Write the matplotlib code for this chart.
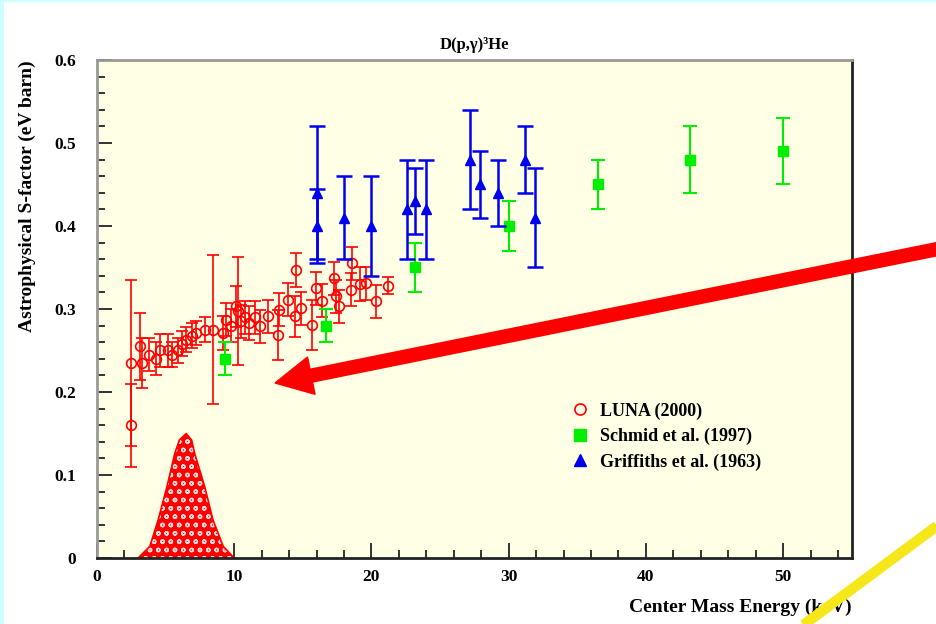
import numpy as np
import matplotlib
matplotlib.use("Agg")
import matplotlib.pyplot as plt
from matplotlib.lines import Line2D
from matplotlib.patches import FancyArrow, Rectangle
from matplotlib.ticker import MultipleLocator

# LUNA (2000)
luna_e = [2.5, 2.5, 3.1, 3.3, 3.8, 4.3, 4.6, 5.2, 5.5, 5.9, 6.2, 6.5, 6.9, 7.2,
          7.85, 8.45, 9.2, 9.4, 9.8, 10.15, 10.25, 10.5, 10.8, 11.1, 11.5, 11.85,
          12.45, 13.2, 13.3, 13.9, 14.4, 14.5, 14.9, 15.7, 15.96, 16.4, 17.3,
          17.4, 17.66, 18.5, 18.6, 19.2, 19.6, 20.3, 21.2]
luna_s = [0.235, 0.16, 0.255, 0.235, 0.245, 0.24, 0.25, 0.25, 0.245, 0.25, 0.258,
          0.263, 0.268, 0.271, 0.275, 0.275, 0.271, 0.287, 0.28, 0.303, 0.297,
          0.285, 0.29, 0.283, 0.29, 0.279, 0.291, 0.269, 0.299, 0.311, 0.291,
          0.347, 0.301, 0.281, 0.325, 0.31, 0.337, 0.315, 0.303, 0.323, 0.355,
          0.33, 0.331, 0.309, 0.328]
luna_err = [0.10, 0.05, 0.04, 0.03, 0.02, 0.02, 0.02, 0.02, 0.015, 0.015, 0.015,
            0.015, 0.015, 0.015, 0.015, 0.09, 0.02, 0.02, 0.02, 0.025, 0.065,
            0.02, 0.02, 0.02, 0.02, 0.02, 0.02, 0.03, 0.02, 0.02, 0.025, 0.02,
            0.02, 0.03, 0.02, 0.02, 0.02, 0.02, 0.02, 0.02, 0.02, 0.02, 0.02,
            0.02, 0.01]

# Schmid et al. (1997)
schmid_e = [9.3, 16.7, 23.2, 30.0, 36.5, 43.2, 50.0]
schmid_s = [0.24, 0.28, 0.35, 0.40, 0.45, 0.48, 0.49]
schmid_err = [0.02, 0.02, 0.03, 0.03, 0.03, 0.04, 0.04]

# Griffiths et al. (1963)
griff_e = [16.0, 16.0, 18.0, 19.96, 22.6, 23.2, 24.0, 27.2, 27.9, 29.2, 31.2, 31.9]
griff_s = [0.44, 0.40, 0.41, 0.40, 0.42, 0.43, 0.42, 0.48, 0.45, 0.44, 0.48, 0.41]
griff_err = [0.08, 0.045, 0.05, 0.06, 0.06, 0.04, 0.06, 0.06, 0.04, 0.04, 0.04, 0.06]

# Gamow peak (arbitrary units)
peak_e = [3.0, 3.85, 4.46, 5.1, 5.67, 6.0, 6.5, 6.9, 7.12, 7.85, 8.45, 9.2, 10.0]
peak_s = [0.0, 0.014, 0.046, 0.086, 0.126, 0.142, 0.150, 0.142, 0.126, 0.086,
          0.046, 0.014, 0.0]

serif = "Liberation Serif"
plt.rcParams["hatch.linewidth"] = 1.0

fig = plt.figure(figsize=(9.37, 6.24), dpi=100)
fig.patch.set_facecolor("white")
ax = fig.add_axes([0.1035, 0.1058, 0.8055, 0.7982])
ax.set_facecolor("#ffffe6")

ax.fill_between(peak_e, peak_s, 0, facecolor="red", edgecolor="#ffd8d8",
                hatch="oo", linewidth=0, zorder=2)
ax.plot(peak_e, peak_s, color="red", lw=1.2, zorder=2)

ax.errorbar(luna_e, luna_s, yerr=luna_err, fmt="o", ms=7, mfc="none",
            mec="red", mew=1.2, ecolor="red", elinewidth=1.2, capsize=4,
            capthick=1.2, zorder=3)
ax.errorbar(schmid_e, schmid_s, yerr=schmid_err, fmt="s", ms=7.5, mfc="#00ee00",
            mec="#00ee00", ecolor="#00ee00", elinewidth=1.5, capsize=5,
            capthick=1.5, zorder=4)
ax.errorbar(griff_e, griff_s, yerr=griff_err, fmt="^", ms=7.5, mfc="#0000ee",
            mec="#0000ee", ecolor="#0000ee", elinewidth=1.8, capsize=6,
            capthick=1.8, zorder=5)

ax.set_xlim(0, 55)
ax.set_ylim(0, 0.6)
ax.xaxis.set_major_locator(MultipleLocator(10))
ax.xaxis.set_minor_locator(MultipleLocator(2))
ax.yaxis.set_major_locator(MultipleLocator(0.1))
ax.yaxis.set_minor_locator(MultipleLocator(0.02))
ax.tick_params(which="both", direction="in", width=1.3, color="#222222",
               top=False, right=False)
ax.tick_params(which="major", length=11)
ax.tick_params(which="minor", length=6)
ax.set_yticks([0, 0.1, 0.2, 0.3, 0.4, 0.5, 0.6])
ax.set_yticklabels(["0", "0.1", "0.2", "0.3", "0.4", "0.5", "0.6"])
ax.tick_params(axis="y", pad=15)
ax.tick_params(axis="x", pad=8)
for lab in ax.get_xticklabels() + ax.get_yticklabels():
    lab.set_fontfamily(serif)
    lab.set_fontweight("bold")
    lab.set_fontsize(12.5)

for side in ["top", "left"]:
    ax.spines[side].set_color("#999999")
    ax.spines[side].set_linewidth(2)
for side in ["right", "bottom"]:
    ax.spines[side].set_color("#222222")
    ax.spines[side].set_linewidth(2)

ax.set_ylabel("Astrophysical S-factor (eV barn)", fontfamily=serif,
              fontweight="bold", fontsize=14, labelpad=13, loc="top")
ax.set_xlabel("Center Mass Energy (keV)", fontfamily=serif, fontweight="bold",
              fontsize=14, loc="right", labelpad=10)
ax.set_title("D(p,γ)³He", fontfamily=serif, fontweight="bold", fontsize=12,
             pad=8)

handles = [
    Line2D([], [], ls="none", marker="o", ms=8, mfc="none", mec="red", mew=1.2),
    Line2D([], [], ls="none", marker="s", ms=8, mfc="#00ee00", mec="#00ee00"),
    Line2D([], [], ls="none", marker="^", ms=8.5, mfc="#0000ee", mec="#0000ee"),
]
labels = ["LUNA (2000)", "Schmid et al. (1997)", "Griffiths et al. (1963)"]
ax.legend(handles, labels, loc="upper left", bbox_to_anchor=(0.607, 0.345),
          frameon=False, prop={"family": serif, "weight": "bold", "size": 13},
          handletextpad=0.6, labelspacing=0.45, handlelength=1.0)

# slide decorations, in inches from the lower-left corner
fig.add_artist(Rectangle((0, 0), 0.04, 6.24, transform=fig.dpi_scale_trans,
                         facecolor="#ccffff", edgecolor="none"))
fig.add_artist(Rectangle((0, 6.22), 9.37, 0.02, transform=fig.dpi_scale_trans,
                         facecolor="#ccffff", edgecolor="none"))
fig.add_artist(FancyArrow(9.45, 3.765, -6.70, -1.355, width=0.13,
                          head_width=0.38, head_length=0.37,
                          length_includes_head=True, color="red",
                          transform=fig.dpi_scale_trans, zorder=10))
fig.add_artist(Line2D([8.02, 9.45], [-0.02, 1.04], color="#f5e71a", lw=7.5,
                      solid_capstyle="butt", transform=fig.dpi_scale_trans,
                      zorder=10))

fig.savefig("out.png", dpi=100)
